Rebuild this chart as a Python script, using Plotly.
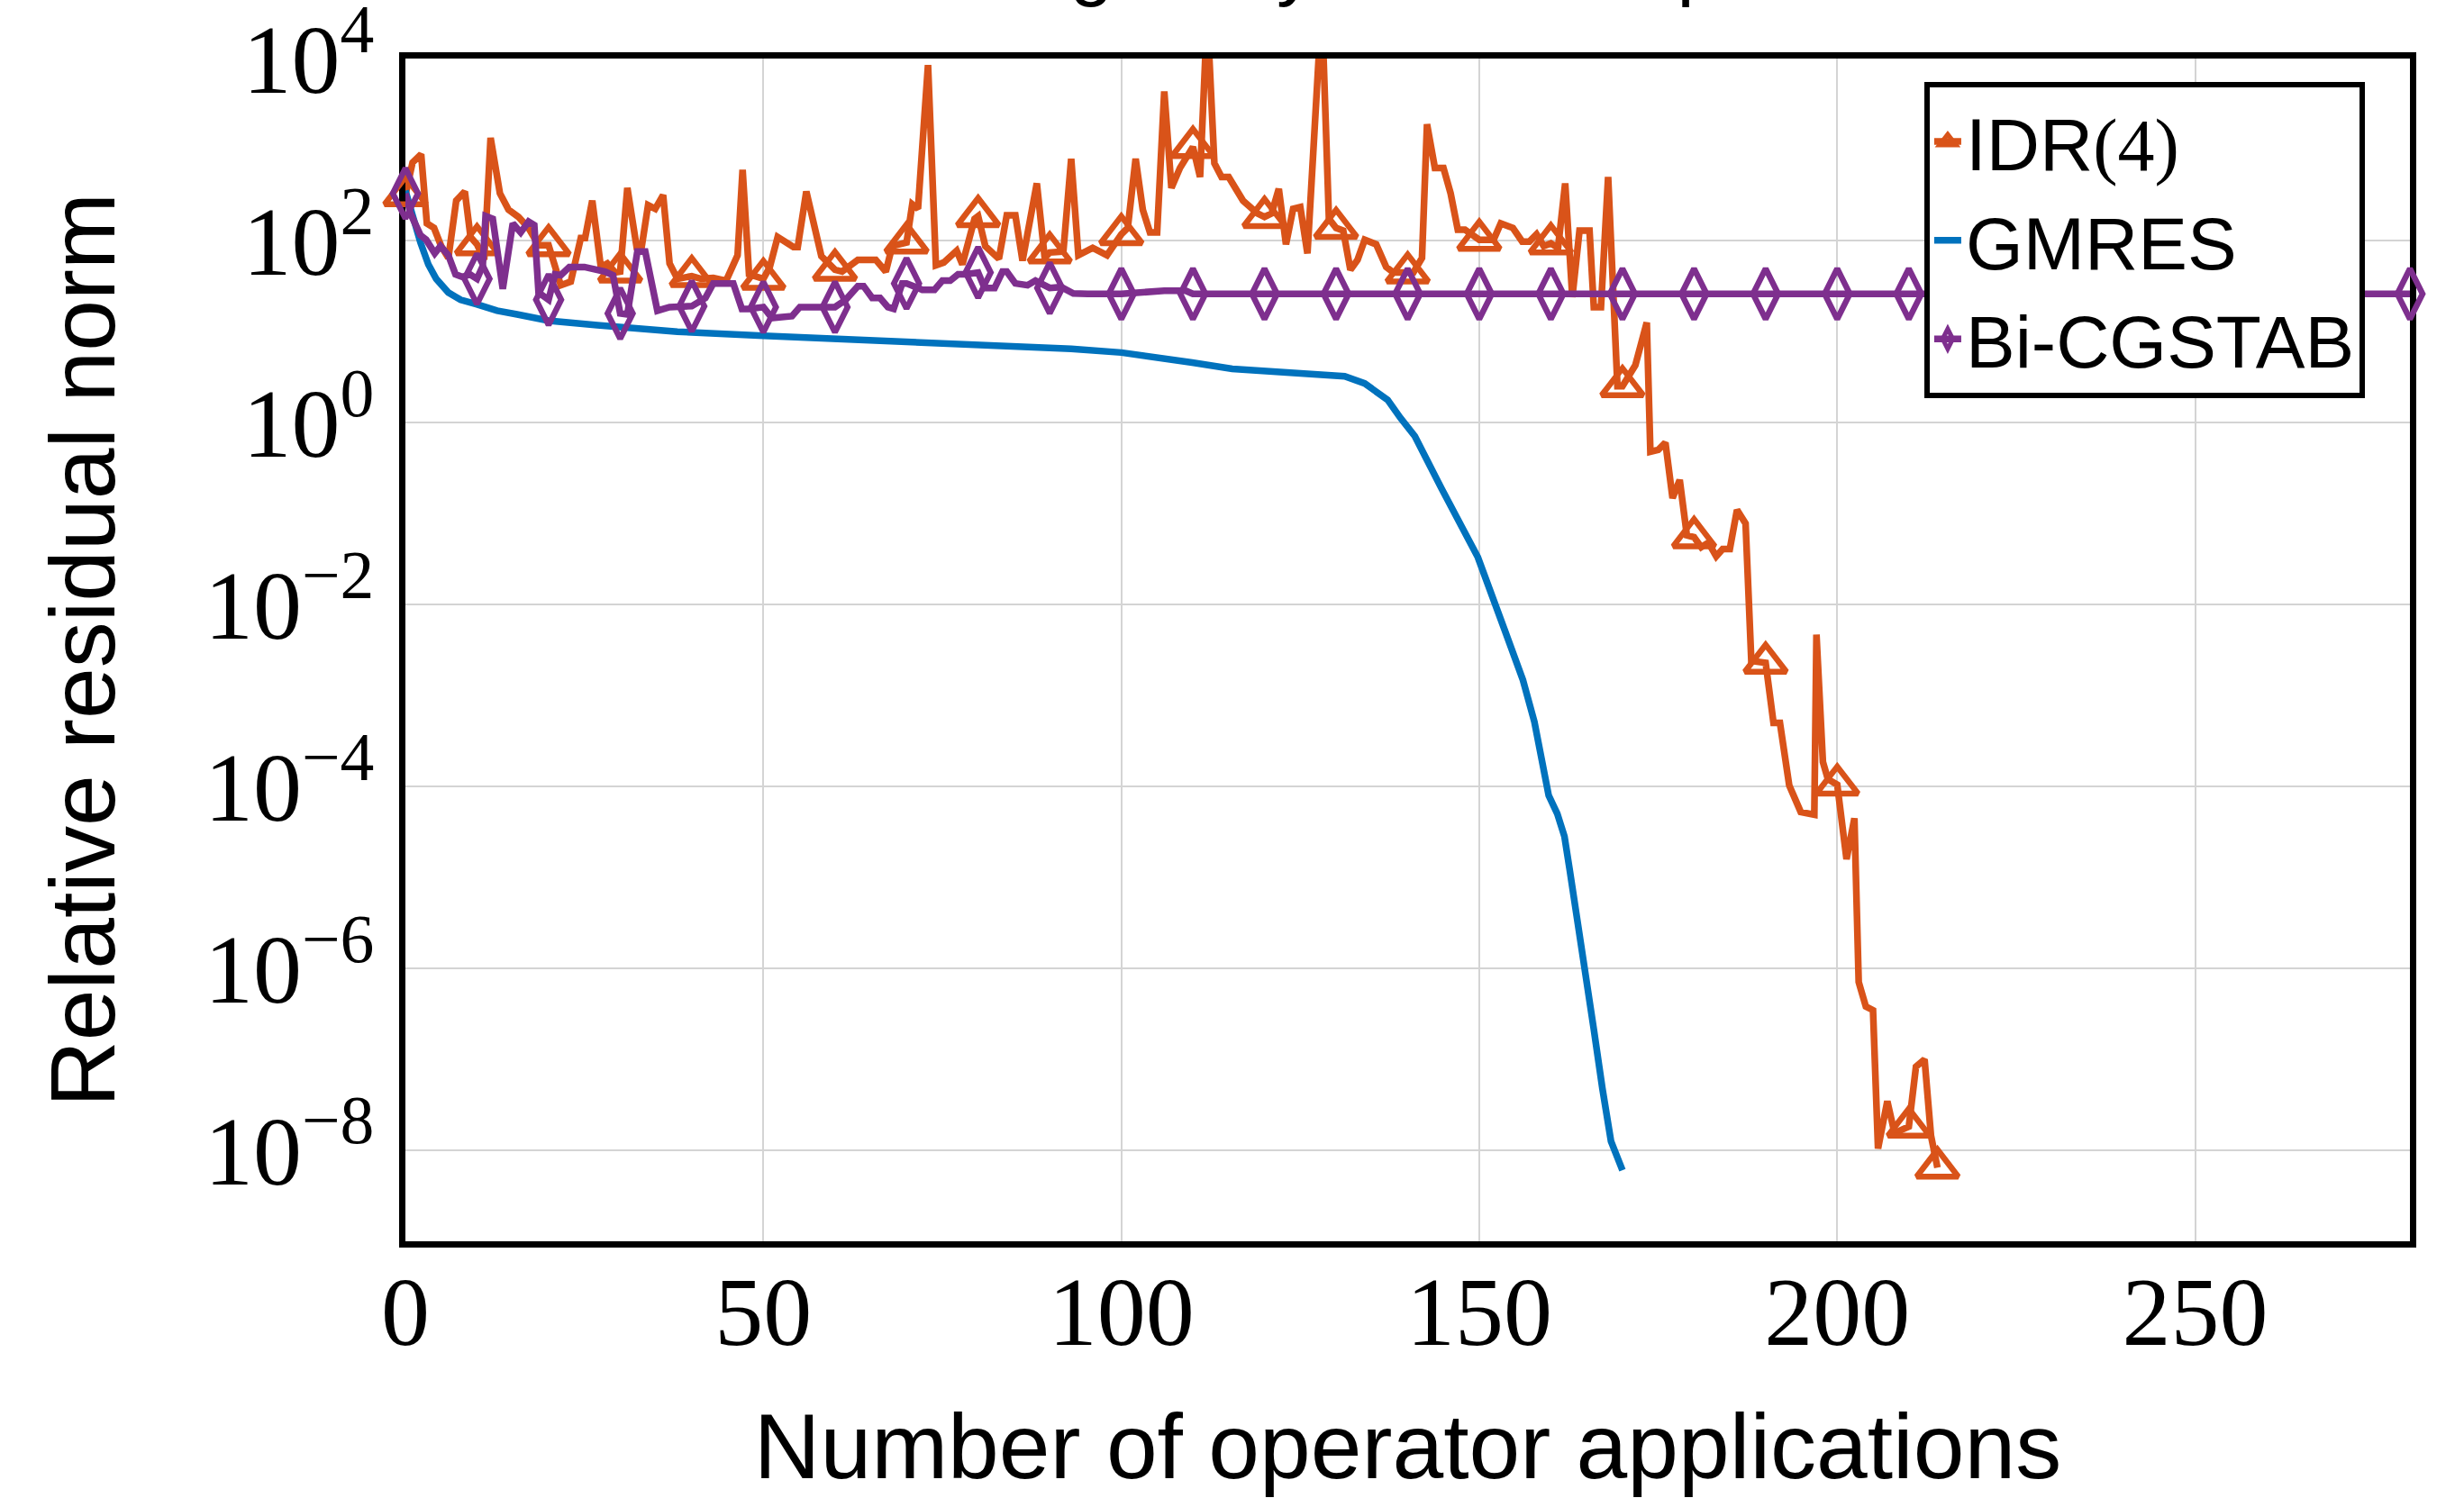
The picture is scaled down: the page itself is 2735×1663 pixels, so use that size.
import plotly.graph_objects as go

# ---------------- data ----------------
# residual norms are stored as log10 exponents and converted to values below
idr_x = [0, 1, 2.2, 3, 4, 5, 6, 7.1, 8.3, 9.1, 10, 11, 11.9, 13.2, 14.4, 15.8, 17.2, 18.6, 20,
         21.7, 23.1, 24.5, 25.1, 26.1, 27.3, 28.2, 29.3, 30, 31, 32.3, 33, 33.9, 34.9, 36, 36.9,
         38, 40, 41.3, 43, 44.8, 46.4, 47.1, 48, 50, 50.9, 52, 54.2, 54.8, 56, 57.3, 58.1, 60, 61,
         63.2, 65.7, 67.1, 68, 70, 70.8, 71.6, 73, 74.1, 75.2, 77, 77.8, 79.5, 80, 81, 82.9, 84,
         85.2, 86.2, 88.2, 89.3, 90, 91.9, 93, 94, 96, 98, 100, 100.9, 102, 103, 104, 105, 106,
         107, 108.2, 110, 111, 112, 113, 114, 115, 117, 119, 120, 121, 122, 123, 124, 125, 126,
         128, 129, 130, 131, 132, 133, 134, 135.6, 137, 138, 140, 140.8, 142, 142.7, 143.8, 145,
         146, 147, 148, 149, 150, 152, 153, 154.7, 156, 157, 158, 159, 160, 161, 162, 163, 164,
         165.4, 166, 167, 168, 169.3, 170, 171.8, 173.4, 173.9, 175, 176, 177, 178, 179, 180, 181,
         182, 183.1, 184, 185, 186, 187.2, 188, 190, 191.1, 192, 193.3, 194.9, 196.8, 197.1, 198,
         198.7, 200, 201.3, 202.4, 203, 204, 205, 205.7, 207, 208, 210, 211, 212.2, 213.1, 214]
idr_log10 = [2.50, 2.86, 2.95, 2.19, 2.14, 1.94, 1.81, 2.44, 2.54, 2.04, 1.96, 1.79, 3.13, 2.52,
             2.34, 2.26, 2.14, 1.95, 1.95, 1.51, 1.55, 2.03, 2.03, 2.44, 1.71, 1.75, 1.65, 1.66,
             2.58, 1.93, 1.93, 2.39, 2.35, 2.50, 1.75, 1.58, 1.61, 1.58, 1.59, 1.56, 1.84, 2.78,
             1.63, 1.58, 1.71, 2.04, 1.93, 1.93, 2.54, 2.07, 1.83, 1.68, 1.66, 1.79, 1.79, 1.66,
             1.94, 1.98, 2.40, 2.35, 3.93, 1.73, 1.76, 1.89, 1.74, 2.24, 2.27, 1.94, 1.80, 2.28,
             2.28, 1.78, 2.63, 1.81, 1.87, 1.88, 2.90, 1.84, 1.92, 1.84, 2.07, 2.14, 2.90, 2.34,
             2.09, 2.09, 3.64, 2.58, 2.80, 3.03, 2.70, 4.50, 2.85, 2.70, 2.70, 2.44, 2.30, 2.26,
             2.30, 2.57, 1.96, 2.35, 2.37, 1.86, 4.60, 2.24, 2.14, 2.11, 1.68, 1.79, 2.01, 1.96,
             1.71, 1.65, 1.65, 1.65, 1.81, 3.28, 2.80, 2.80, 2.52, 2.12, 2.12, 2.06, 2.01, 2.01,
             2.19, 2.14, 1.99, 1.99, 2.07, 1.94, 1.97, 1.92, 2.63, 1.38, 2.11, 2.11, 1.27, 1.27,
             2.70, 0.40, 0.40, 0.63, 1.10, -0.32, -0.30, -0.22, -0.83, -0.63, -1.24, -1.26, -1.37,
             -1.32, -1.47, -1.39, -1.39, -0.96, -1.11, -2.62, -2.64, -3.30, -3.30, -3.99, -4.28,
             -4.31, -2.33, -3.73, -3.92, -3.98, -4.80, -4.35, -6.15, -6.42, -6.46, -7.98, -7.46,
             -7.81, -7.74, -7.08, -7.00, -7.84, -8.19]

gmres_x = [0, 1, 2.1, 3.2, 4.3, 6, 7.7, 10, 12.8, 15.6, 20, 26.8, 38, 50, 60.4, 71.6, 81.8, 93,
           100, 105.4, 109.9, 115.5, 121.1, 126.7, 131.2, 134, 135.7, 137.2, 139, 141, 144.7,
           149.8, 153.5, 156.1, 157.7, 159.0, 159.7, 160.9, 161.9, 162.6, 163.6, 164.8, 166,
           167.2, 168.4, 170]
gmres_log10 = [2.55, 2.27, 1.98, 1.74, 1.58, 1.43, 1.35, 1.30, 1.23, 1.19, 1.12, 1.07, 1.00,
               0.955, 0.92, 0.87, 0.85, 0.81, 0.77, 0.72, 0.66, 0.59, 0.56, 0.54, 0.51, 0.43,
               0.33, 0.25, 0.05, -0.15, -0.72, -1.48, -2.27, -2.83, -3.29, -3.85, -4.10, -4.30,
               -4.55, -4.90, -5.39, -6.00, -6.67, -7.32, -7.90, -8.22]

bicg_x = [0, 0.7, 2.1, 2.9, 4.1, 4.9, 6, 7, 8, 9, 10, 10.8, 11.2, 12.2, 13.6, 15, 16.1, 17.2, 18,
          18.6, 20, 20.9, 21.7, 22.9, 25, 27.9, 29, 30, 31, 32.4, 33.5, 35.2, 36.9, 40, 41.9, 43,
          45.8, 47, 48, 50, 51.2, 54, 55.1, 60, 61.5, 63.2, 64, 65.2, 66.3, 67.4, 68.2, 69.4, 70,
          72.2, 73.9, 75, 76.1, 77.2, 78.3, 80, 80.9, 82.3, 83.4, 84, 85.2, 86.9, 88, 90, 91.6,
          93.3, 95.3, 100, 106, 109, 110, 120, 130, 140, 150, 160, 170, 180, 190, 200, 210, 220,
          230, 240, 250, 260, 270, 280]
bicg_log10 = [2.52, 2.30, 2.06, 2.01, 1.86, 1.94, 1.84, 1.63, 1.60, 1.63, 1.58, 1.72, 2.27, 2.24,
              1.47, 2.19, 2.09, 2.21, 2.17, 1.43, 1.35, 1.63, 1.62, 1.71, 1.71, 1.66, 1.62, 1.20,
              1.19, 1.88, 1.88, 1.23, 1.27, 1.28, 1.37, 1.53, 1.53, 1.25, 1.25, 1.27, 1.15, 1.17,
              1.27, 1.27, 1.35, 1.50, 1.50, 1.37, 1.37, 1.27, 1.25, 1.53, 1.53, 1.46, 1.46, 1.56,
              1.56, 1.63, 1.63, 1.65, 1.48, 1.48, 1.66, 1.66, 1.53, 1.51, 1.56, 1.48, 1.49, 1.42,
              1.415, 1.415, 1.45, 1.45, 1.415, 1.415, 1.415, 1.415, 1.415, 1.415, 1.415, 1.415,
              1.415, 1.415, 1.415, 1.415, 1.415, 1.415, 1.415, 1.415, 1.415, 1.415]

series_names = ["IDR<span style='font-family:Liberation Serif'>(4)</span>", "GMRES", "Bi-CGSTAB"]
x_tick_vals = [0, 50, 100, 150, 200, 250]
y_tick_vals = [1e-8, 1e-6, 1e-4, 1e-2, 1e0, 1e2, 1e4]
y_tick_text = ["10<sup>−8</sup>", "10<sup>−6</sup>", "10<sup>−4</sup>", "10<sup>−2</sup>",
               "10<sup>0</sup>", "10<sup>2</sup>", "10<sup>4</sup>"]
title_text = "Not diagonally dominant problem"
x_title = "Number of operator applications"
y_title = "Relative residual norm"
mark_every = 10

# ---------------- styling ----------------
C_IDR = "#D95319"
C_GM = "#0072BD"
C_BI = "#7E2F8E"
SANS = "Liberation Sans Narrow, Liberation Sans, Arial, sans-serif"
SERIF = "Liberation Serif, DejaVu Serif, serif"
LW = 7.5


def to_vals(exps):
    return [10 ** e for e in exps]


def marked(xs, ys, last=False):
    mx, my = [], []
    for a, b in zip(xs, ys):
        if abs(a - round(a)) < 1e-9 and int(round(a)) % mark_every == 0:
            mx.append(a)
            my.append(b)
    if last and mx[-1] != xs[-1]:
        mx.append(xs[-1])
        my.append(ys[-1])
    return mx, my


idr_y = to_vals(idr_log10)
gm_y = to_vals(gmres_log10)
bi_y = to_vals(bicg_log10)

fig = go.Figure()

# IDR(4)
fig.add_trace(go.Scatter(x=idr_x, y=idr_y, mode="lines", line=dict(color=C_IDR, width=LW),
                         showlegend=False, hoverinfo="skip"))
mx, my = marked(idr_x, idr_y, last=True)
fig.add_trace(go.Scatter(x=mx, y=my, mode="markers", cliponaxis=False, showlegend=False,
                         marker=dict(symbol="triangle-up-open", size=40, color=C_IDR,
                                     line=dict(color=C_IDR, width=6.5))))
# GMRES
fig.add_trace(go.Scatter(x=gmres_x, y=gm_y, mode="lines", line=dict(color=C_GM, width=LW),
                         showlegend=False))
# Bi-CGSTAB
fig.add_trace(go.Scatter(x=bicg_x, y=bi_y, mode="lines", line=dict(color=C_BI, width=LW),
                         showlegend=False))
mx, my = marked(bicg_x, bi_y)
fig.add_trace(go.Scatter(x=mx, y=my, mode="markers", cliponaxis=False, showlegend=False,
                         marker=dict(symbol="diamond-tall-open", size=40, color=C_BI,
                                     line=dict(color=C_BI, width=6.5))))

# legend entries
fig.add_trace(go.Scatter(x=[None], y=[None], mode="lines+markers", name=series_names[0],
                         line=dict(color=C_IDR, width=LW),
                         marker=dict(symbol="triangle-up-open", size=16, color=C_IDR,
                                     line=dict(color=C_IDR, width=5))))
fig.add_trace(go.Scatter(x=[None], y=[None], mode="lines", name=series_names[1],
                         line=dict(color=C_GM, width=LW)))
fig.add_trace(go.Scatter(x=[None], y=[None], mode="lines+markers", name=series_names[2],
                         line=dict(color=C_BI, width=LW),
                         marker=dict(symbol="diamond-tall-open", size=16, color=C_BI,
                                     line=dict(color=C_BI, width=5))))

PLOT_T, PLOT_B, PLOT_L, PLOT_R = 65, 285, 450, 60
plot_h = 1663 - PLOT_T - PLOT_B
plot_w = 2735 - PLOT_L - PLOT_R

fig.update_layout(
    width=2735, height=1663,
    margin=dict(l=PLOT_L, r=PLOT_R, t=PLOT_T, b=PLOT_B, autoexpand=False),
    paper_bgcolor="white", plot_bgcolor="white",
    showlegend=True,
    legend=dict(x=0.9775, y=0.98, xanchor="right", yanchor="top",
                bgcolor="white", bordercolor="black", borderwidth=6,
                font=dict(family=SANS, size=82, color="black"),
                itemwidth=30, tracegroupgap=0),
    annotations=[dict(text=title_text, x=0.5 - 19 / plot_w, xref="paper", xanchor="center",
                      y=1 + (PLOT_T - 10) / plot_h, yref="paper", yanchor="bottom",
                      showarrow=False, font=dict(family=SANS, size=86, color="black"))],
)

fig.update_xaxes(range=[0, 280], tickvals=x_tick_vals, ticks="", showgrid=True,
                 gridcolor="#d4d4d4", gridwidth=2, zeroline=False, automargin=False,
                 showline=True, linecolor="black", linewidth=7, mirror=True, layer="below traces",
                 tickfont=dict(family=SERIF, size=108, color="black"),
                 ticklabelstandoff=-22, ticklabeloverflow="allow",
                 title=dict(text=x_title, font=dict(family=SANS, size=102, color="black"),
                            standoff=70))
fig.update_yaxes(type="log", range=[-9, 4.002], tickvals=y_tick_vals, ticktext=y_tick_text,
                 ticks="", showgrid=True, gridcolor="#d4d4d4", gridwidth=2, zeroline=False,
                 automargin=False, layer="below traces", ticklabeloverflow="allow",
                 showline=True, linecolor="black", linewidth=7, mirror=True,
                 tickfont=dict(family=SERIF, size=108, color="black"),
                 ticklabelstandoff=6,
                 title=dict(text=y_title, font=dict(family=SANS, size=102, color="black"),
                            standoff=68))

fig.write_html("out.html", config={"displayModeBar": False},
               post_script="document.body.style.margin='0';document.body.style.overflow='hidden';")
